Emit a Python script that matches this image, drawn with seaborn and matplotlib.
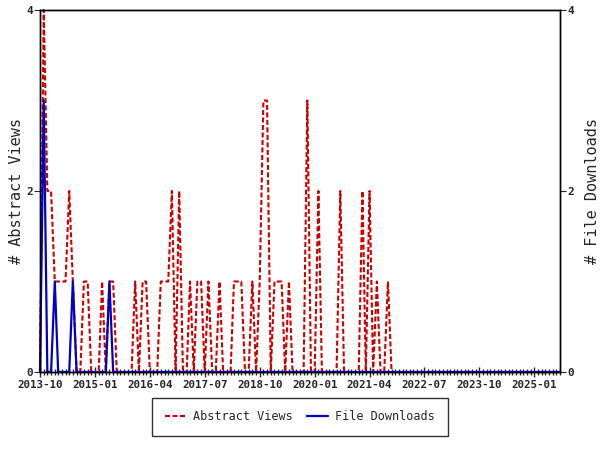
import pandas as pd
import seaborn as sns
import matplotlib.pyplot as plt
import matplotlib.dates as mdates

# monthly counts, 2013-10 .. 2025-08 (one row per calendar year)
months = pd.date_range('2013-10-01', '2025-08-01', freq='MS')

abstract_views = (
    [0, 4, 2] +                                  # 2013 (Oct-Dec)
    [2, 1, 1, 1, 1, 2, 1, 0, 0, 1, 1, 0] +       # 2014
    [0, 0, 1, 0, 1, 1, 0, 0, 0, 0, 0, 1] +       # 2015
    [0, 1, 1, 0, 0, 0, 1, 1, 1, 2, 0, 2] +       # 2016
    [0, 0, 1, 0, 1, 1, 0, 1, 0, 0, 1, 0] +       # 2017
    [0, 0, 1, 1, 1, 0, 0, 1, 0, 1, 3, 3] +       # 2018
    [0, 1, 1, 1, 0, 1, 0, 0, 0, 0, 3, 0] +       # 2019
    [0, 2, 0, 0, 0, 0, 0, 2, 0, 0, 0, 0] +       # 2020
    [0, 2, 0, 2, 0, 1, 0, 0, 1, 0, 0, 0] +       # 2021
    [0, 0, 0, 0, 0, 0, 0, 0, 0, 0, 0, 0] +       # 2022
    [0, 0, 0, 0, 0, 0, 0, 0, 0, 0, 0, 0] +       # 2023
    [0, 0, 0, 0, 0, 0, 0, 0, 0, 0, 0, 0] +       # 2024
    [0, 0, 0, 0, 0, 0, 0, 0]                     # 2025 (Jan-Aug)
)

file_downloads = (
    [0, 3, 0] +
    [0, 1, 0, 0, 0, 0, 1, 0, 0, 0, 0, 0] +
    [0, 0, 0, 0, 1, 0, 0, 0, 0, 0, 0, 0] +
    [0, 0, 0, 0, 0, 0, 0, 0, 0, 0, 0, 0] +
    [0, 0, 0, 0, 0, 0, 0, 0, 0, 0, 0, 0] +
    [0, 0, 0, 0, 0, 0, 0, 0, 0, 0, 0, 0] +
    [0, 0, 0, 0, 0, 0, 0, 0, 0, 0, 0, 0] +
    [0, 0, 0, 0, 0, 0, 0, 0, 0, 0, 0, 0] +
    [0, 0, 0, 0, 0, 0, 0, 0, 0, 0, 0, 0] +
    [0, 0, 0, 0, 0, 0, 0, 0, 0, 0, 0, 0] +
    [0, 0, 0, 0, 0, 0, 0, 0, 0, 0, 0, 0] +
    [0, 0, 0, 0, 0, 0, 0, 0, 0, 0, 0, 0] +
    [0, 0, 0, 0, 0, 0, 0, 0]
)

tick_labels = ['2013-10', '2015-01', '2016-04', '2017-07', '2018-10',
               '2020-01', '2021-04', '2022-07', '2023-10', '2025-01']
y_ticks = [0, 2, 4]

df = pd.DataFrame({'month': months, 'views': abstract_views, 'downloads': file_downloads})

sns.set_style('ticks')
plt.rcParams['font.family'] = ['DejaVu Sans Mono']

red = '#cc0000'
blue = '#0000c8'

fig, ax = plt.subplots(figsize=(6, 4.5), dpi=100)
fig.subplots_adjust(left=40/600, right=560/600, bottom=1-372/450, top=1-10/450)
ax2 = ax.twinx()

sns.lineplot(data=df, x='month', y='views', ax=ax, color=red, linewidth=1.5,
             label='Abstract Views', legend=False)
ax.lines[0].set_dashes((2.4, 1.2))
sns.lineplot(data=df, x='month', y='downloads', ax=ax2, color=blue, linewidth=1.6,
             label='File Downloads', legend=False)
for ln in ax.lines + ax2.lines:
    ln.set_clip_on(False)

for a in (ax, ax2):
    a.set_ylim(0, 4)
    a.set_yticks(y_ticks)
    a.set_xlim(months[0], months[-1])
    for s in a.spines.values():
        s.set_visible(True)
        s.set_color('black')
        s.set_linewidth(1)

ax.set_xticks(pd.to_datetime(tick_labels))
ax.set_xticklabels(tick_labels, fontsize=7.8, fontweight='bold')
ax.xaxis.set_minor_locator(mdates.MonthLocator())
ax.tick_params(axis='x', which='major', direction='inout', length=7, width=1, pad=2)
ax.tick_params(axis='x', which='minor', direction='inout', length=4, width=1)
ax.tick_params(axis='y', direction='out', length=4, pad=1)
ax2.tick_params(axis='y', direction='out', length=4, pad=1)
for lab in ax.get_yticklabels() + ax2.get_yticklabels():
    lab.set_fontsize(8)
    lab.set_fontweight('bold')

ax.set_xlabel('')
ax.set_ylabel('# Abstract Views', fontsize=11, labelpad=2)
ax2.set_ylabel('# File Downloads', fontsize=11, labelpad=8)

handles = ax.lines[:1] + ax2.lines[:1]
labels = ['Abstract Views', 'File Downloads']
leg = fig.legend(handles, labels, loc='center', bbox_to_anchor=(0.5, 1-417/450),
                 ncol=2, frameon=True, fancybox=False, edgecolor='black',
                 fontsize=8.5, handlelength=1.8, handletextpad=0.6,
                 columnspacing=1.2, borderpad=1.1)
leg.get_frame().set_linewidth(1)

fig.savefig('out.png', dpi=100)
